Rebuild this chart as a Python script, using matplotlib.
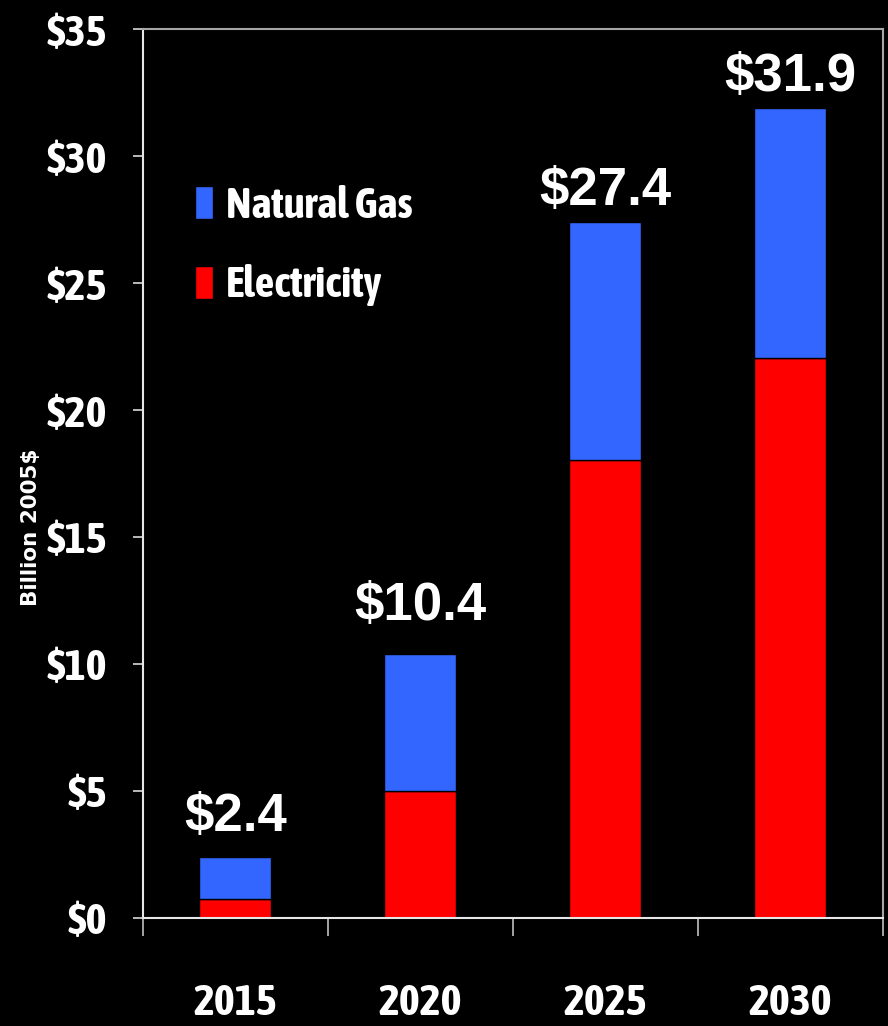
import numpy as np
import matplotlib
matplotlib.use("Agg")
import matplotlib.pyplot as plt
from matplotlib import font_manager

years = ["2015", "2020", "2025", "2030"]
electricity = [0.75, 5.0, 18.05, 22.05]
totals = [2.4, 10.4, 27.4, 31.9]
natural_gas = [t - e for t, e in zip(totals, electricity)]
total_labels = ["$2.4", "$10.4", "$27.4", "$31.9"]
yticks = [0, 5, 10, 15, 20, 25, 30, 35]

# pick a narrow bold face for the axis text if one is around
fonts = font_manager.fontManager.ttflist
cond = sorted({f.name for f in fonts
               if ("Narrow" in f.name or "Condensed" in f.name
                   or f.stretch in ("condensed", "semi-condensed", 75, 87.5))
               and f.weight in ("bold", 700, "semibold", 600)})
narrow = cond[:1] + ["DejaVu Sans"]
wide = ["Liberation Sans", "DejaVu Sans"]

fig = plt.figure(figsize=(8.88, 10.26), dpi=100, facecolor="black")
ax = fig.add_axes([0.161, 0.1053, 0.833, 0.8664], facecolor="black")

x = np.arange(len(years))
w = 0.39
ax.bar(x, electricity, w, color="#ff0000", edgecolor="black", linewidth=1, label="Electricity")
ax.bar(x, natural_gas, w, bottom=electricity, color="#3366ff", edgecolor="black",
       linewidth=1, label="Natural Gas")

# totals above each stack
offsets = [19, 24, 12, 12]
for xi, t, lab, off in zip(x, totals, total_labels, offsets):
    ax.annotate(lab, (xi, t), xytext=(0, off), textcoords="offset points",
                ha="center", va="baseline", color="white", fontsize=38,
                fontweight="bold", family=wide)

tick_font = dict(family=narrow, fontsize=32, fontweight="bold", stretch="condensed")

ax.set_xlim(-0.5, 3.5)
ax.set_ylim(0, 35)
ax.set_yticks(yticks)
ax.set_yticklabels(["$%d" % v for v in yticks], color="white", **tick_font)
ax.tick_params(axis="y", direction="out", length=7.2, width=1.2, color="#d9d9d9", pad=19)

ax.set_xticks(np.arange(-0.5, 4, 1))
ax.set_xticklabels([])
ax.tick_params(axis="x", which="major", direction="out", length=13, width=1.2, color="#bfbfbf")
ax.set_xticks(x, minor=True)
ax.set_xticklabels(years, minor=True, color="white", **tick_font)
ax.tick_params(axis="x", which="minor", length=0, pad=46)

for side in ["left", "bottom"]:
    ax.spines[side].set_color("#e6e6e6")
    ax.spines[side].set_linewidth(1.5)
for side in ["top", "right"]:
    ax.spines[side].set_color("#a6a6a6")
    ax.spines[side].set_linewidth(1.5)

ax.set_ylabel("Billion 2005$", color="white", fontsize=15.5, fontweight="bold",
              family="DejaVu Sans")
ax.yaxis.set_label_coords(-0.138, 0.44)

handles, labels = ax.get_legend_handles_labels()
leg = ax.legend(handles[::-1], labels[::-1], loc="upper left",
                bbox_to_anchor=(0.07, 0.825), frameon=False,
                prop={"family": narrow, "size": 31, "weight": "bold", "stretch": "condensed"},
                handlelength=0.42, handleheight=0.78, handletextpad=0.3,
                labelspacing=0.88, borderpad=0, borderaxespad=0)
for t in leg.get_texts():
    t.set_color("white")

fig.savefig("out.png", dpi=100, facecolor="black")
